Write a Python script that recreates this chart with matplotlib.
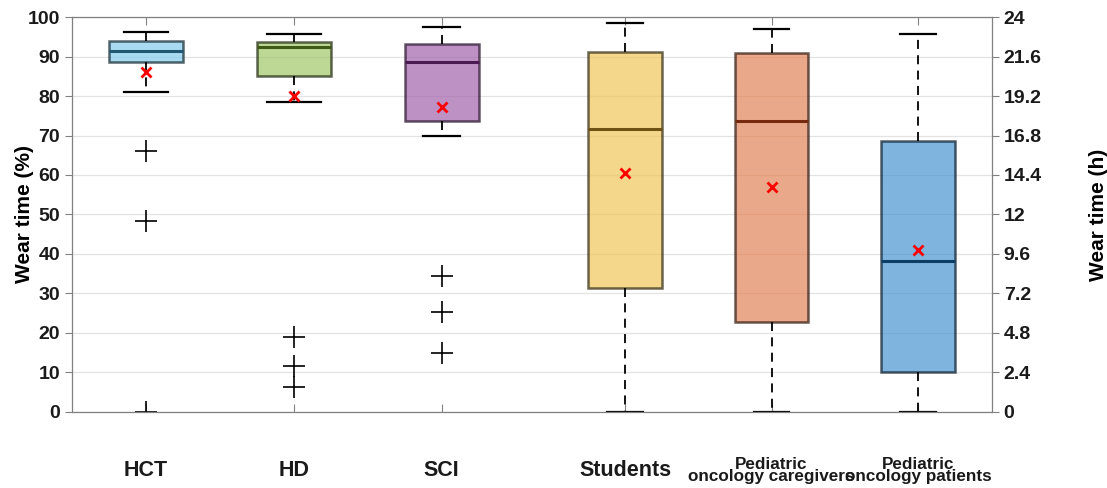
import numpy as np
import matplotlib.pyplot as plt
from matplotlib import transforms
from matplotlib.ticker import FormatStrFormatter

plt.rcParams['font.family'] = ['Liberation Sans', 'DejaVu Sans']
plt.rcParams['font.weight'] = 'bold'

groups = ['HCT', 'HD', 'SCI', 'Students',
          'Pediatric\noncology caregivers', 'Pediatric\noncology patients']
positions = [1, 2, 3, 4.24, 5.23, 6.22]

# summary stats per group (wear time, %)
whislo = [81.0, 78.6, 70.0, 0.0, 0.0, 0.0]
q1 = [88.5, 85.1, 73.7, 31.5, 22.7, 10.1]
med = [91.5, 92.4, 88.6, 71.6, 73.7, 38.1]
q3 = [94.0, 93.6, 93.2, 91.2, 91.0, 68.7]
whishi = [96.1, 95.8, 97.5, 98.6, 97.0, 95.6]
means = [86.0, 79.9, 77.3, 60.6, 57.0, 40.9]
outliers = [[66.2, 48.4, 0.0], [19.0, 11.6, 6.2], [34.3, 25.2, 14.8], [], [], []]

fills = ['#83cdec', '#a1c669', '#a263ab', '#f1c65b', '#e28458', '#4895cf']
medcols = ['#1f5870', '#3f5a17', '#4a1a52', '#6e5214', '#772a0e', '#0d3f66']
edgecols = ['#10252e', '#1c260c', '#241028', '#2e2810', '#2e140a', '#0a1a28']
capw = [0.30, 0.365, 0.25, 0.245, 0.24, 0.24]

stats = []
for i in range(len(groups)):
    stats.append(dict(whislo=whislo[i], q1=q1[i], med=med[i], q3=q3[i],
                      whishi=whishi[i], mean=means[i], fliers=outliers[i]))

fig = plt.figure(figsize=(11.07, 4.88), dpi=100)
ax = fig.add_axes([0.065, 0.156, 0.831, 0.809])

bp = ax.bxp(stats, positions=positions, widths=0.5, capwidths=capw,
            showmeans=True, patch_artist=True,
            whiskerprops=dict(color='black', linewidth=1.3, linestyle=(0, (5, 3.5))),
            capprops=dict(color='black', linewidth=1.6),
            flierprops=dict(marker='+', markeredgecolor='black', markersize=16,
                            markeredgewidth=1.2, linestyle='none'),
            meanprops=dict(marker='x', markeredgecolor='red', markersize=7,
                           markeredgewidth=2),
            medianprops=dict(linewidth=2.2))

for box, fc, ec in zip(bp['boxes'], fills, edgecols):
    box.set_facecolor(fc)
    box.set_alpha(0.7)
    box.set_edgecolor(ec)
    box.set_linewidth(1.8)
for ln, mc in zip(bp['medians'], medcols):
    ln.set_color(mc)
for m in bp['means']:
    m.set_zorder(5)

ax.set_xlim(0.5, 6.72)
ax.set_ylim(0, 100)
ax.set_yticks(np.arange(0, 101, 10))
ax.yaxis.grid(True, color='#e3e3e3', linewidth=0.9)
ax.set_axisbelow(True)

for s in ax.spines.values():
    s.set_color('#808080')
    s.set_linewidth(0.9)

ax.set_xticks(positions)
ax.set_xticklabels([])
ax.tick_params(axis='x', direction='in', top=True, length=6, color='#808080')
ax.tick_params(axis='y', direction='out', length=5, color='#808080',
               labelsize=14, labelcolor='#1a1a1a')
for lbl in ax.get_yticklabels():
    lbl.set_fontweight('bold')

trans = transforms.blended_transform_factory(ax.transData, ax.transAxes)
for p, g in zip(positions, groups):
    size = 12.3 if '\n' in g else 15.5
    ax.text(p, -0.149, g, transform=trans, ha='center', va='center',
            fontsize=size, fontweight='bold', linespacing=0.8, color='#1a1a1a')

ax.set_ylabel('Wear time (%)', fontsize=15, fontweight='bold')
ax.yaxis.set_label_coords(-0.041, 0.5)

ax2 = ax.twinx()
ax2.set_ylim(0, 24)
ax2.set_yticks(np.arange(0, 24.01, 2.4))
ax2.yaxis.set_major_formatter(FormatStrFormatter('%g'))
ax2.tick_params(axis='y', direction='out', length=5, color='#808080',
                labelsize=14, labelcolor='#1a1a1a')
for lbl in ax2.get_yticklabels():
    lbl.set_fontweight('bold')
for s in ax2.spines.values():
    s.set_visible(False)
ax2.set_ylabel('Wear time (h)', fontsize=15, fontweight='bold')
ax2.yaxis.set_label_coords(1.106, 0.5)

fig.savefig('out.png', dpi=100)
